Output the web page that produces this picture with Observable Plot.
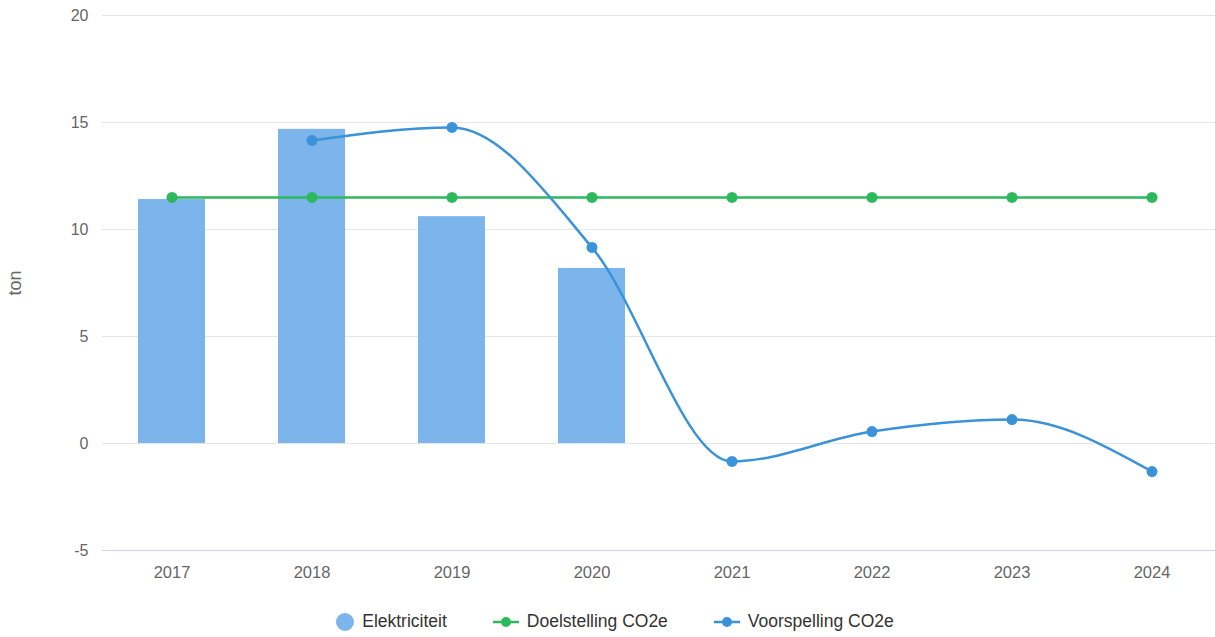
<!DOCTYPE html>
<html>
<head>
<meta charset="utf-8">
<script src="https://cdn.jsdelivr.net/npm/d3@7"></script>
<script src="https://cdn.jsdelivr.net/npm/@observablehq/plot@0.6"></script>
<style>
  html, body { margin: 0; padding: 0; background: #fff; }
  body { width: 1215px; height: 637px; overflow: hidden; font-family: "Liberation Sans", Arial, sans-serif; }
  #legend { position: absolute; top: 611px; left: 0; width: 1230px; display: flex; justify-content: center; gap: 46px; font-size: 17.5px; color: #333; }
  .item { display: flex; align-items: center; gap: 8px; }
</style>
</head>
<body>
<div id="chart"></div>
<div id="legend"></div>
<script>
const years = ["2017", "2018", "2019", "2020", "2021", "2022", "2023", "2024"];
const elektriciteit = [11.4, 14.68, 10.6, 8.18, null, null, null, null];
const doelstelling = [11.5, 11.5, 11.5, 11.5, 11.5, 11.5, 11.5, 11.5];
const voorspelling = [null, 14.16, 14.77, 9.16, -0.84, 0.56, 1.12, -1.31];
const yTicks = [-5, 0, 5, 10, 15, 20];
const yTitle = "ton";
const seriesNames = ["Elektriciteit", "Doelstelling CO2e", "Voorspelling CO2e"];
const colors = ["#7cb5ec", "#2eb85c", "#3a92d8"];

const bars = years.map((y, i) => ({year: y, value: elektriciteit[i]})).filter(d => d.value != null);
const target = years.map((y, i) => ({year: y, value: doelstelling[i]}));
const forecast = years.map((y, i) => ({year: y, value: voorspelling[i]})).filter(d => d.value != null);

const chart = Plot.plot({
  width: 1215,
  height: 600,
  marginTop: 15,
  marginBottom: 50,
  marginLeft: 102,
  marginRight: 0,
  style: {fontFamily: "'Liberation Sans', Arial, sans-serif", fontSize: "16px", color: "#666"},
  x: {domain: years, range: [102, 1222], paddingInner: 0.52, paddingOuter: 0.26, label: null},
  y: {domain: [-5, 20], ticks: yTicks, label: null},
  marks: [
    Plot.ruleY(yTicks.filter(t => t !== -5), {stroke: "#e6e6e6", strokeWidth: 1}),
    Plot.axisY({ticks: yTicks, tickSize: 0, tickPadding: 14, fill: "#666", fontSize: 16, tickFormat: d => String(d), label: null}),
    Plot.text([yTitle], {frameAnchor: "left", textAnchor: "middle", dx: -87, rotate: -90, fontSize: 18, fill: "#666", text: d => d}),
    Plot.barY(bars, {x: "year", y: "value", fill: colors[0]}),
    Plot.ruleY([-5], {stroke: "#ccd6eb", strokeWidth: 1}),
    Plot.axisX({tickSize: 0, tickPadding: 16, fill: "#666", fontSize: 16.5, label: null}),
    Plot.line(target, {x: "year", y: "value", stroke: colors[1], strokeWidth: 2.5}),
    Plot.dot(target, {x: "year", y: "value", fill: colors[1], r: 5.5}),
    Plot.line(forecast, {x: "year", y: "value", stroke: colors[2], strokeWidth: 2.5, curve: "monotone-x"}),
    Plot.dot(forecast, {x: "year", y: "value", fill: colors[2], r: 5.5})
  ]
});
document.getElementById("chart").appendChild(chart);

const legend = document.getElementById("legend");
seriesNames.forEach((name, i) => {
  const item = document.createElement("div");
  item.className = "item";
  let sym;
  if (i === 0) {
    sym = `<svg width="18" height="18"><circle cx="9" cy="9" r="9" fill="${colors[0]}"/></svg>`;
  } else {
    sym = `<svg width="26" height="18"><line x1="0" x2="26" y1="9" y2="9" stroke="${colors[i]}" stroke-width="2.5"/><circle cx="13" cy="9" r="5" fill="${colors[i]}"/></svg>`;
  }
  item.innerHTML = sym + `<span>${name}</span>`;
  legend.appendChild(item);
});
</script>
</body>
</html>
